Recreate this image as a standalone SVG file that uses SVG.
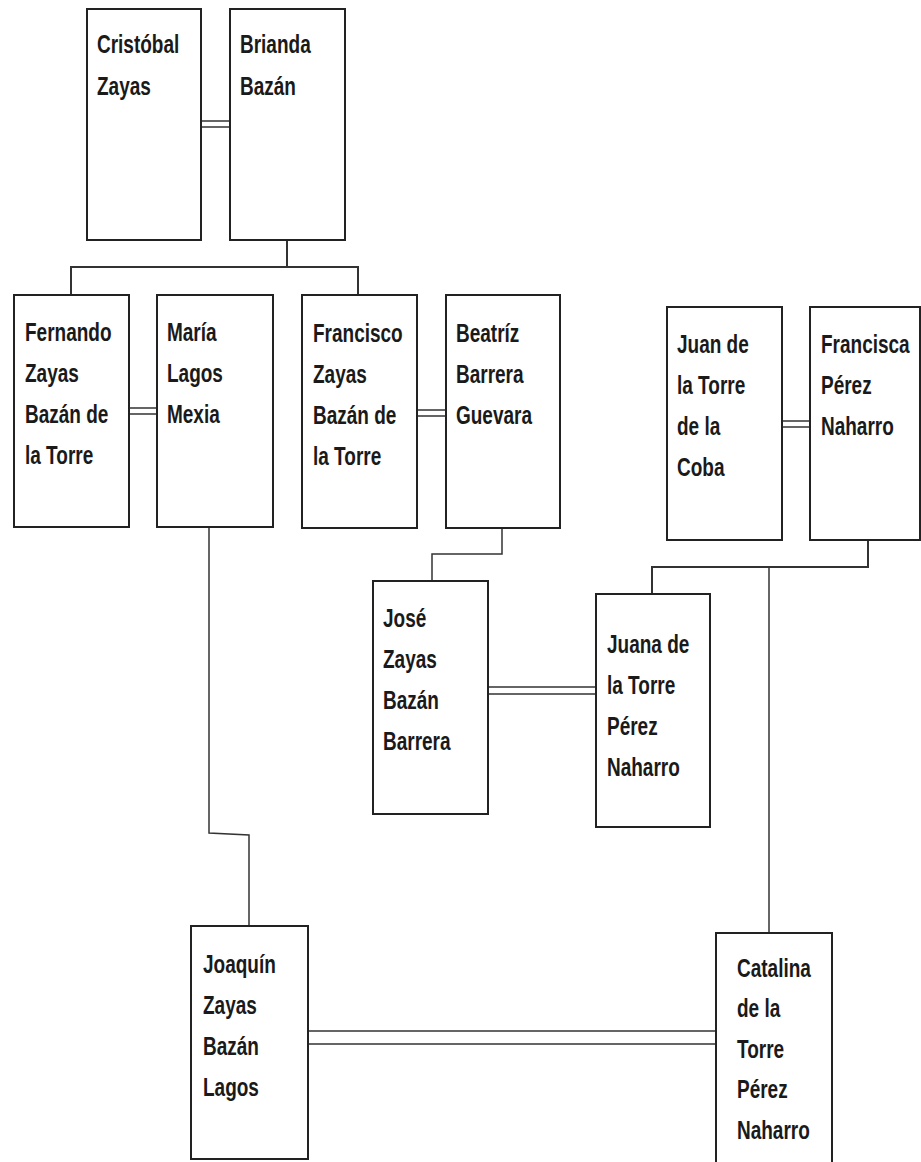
<svg xmlns="http://www.w3.org/2000/svg" width="921" height="1162" viewBox="0 0 921 1162">
<style>
.box{fill:#fff;stroke:#222;stroke-width:2}
.lbl{font-family:"Liberation Sans",Arial,sans-serif;font-size:25px;font-weight:bold;fill:#1a1a1a}
.con{fill:none;stroke:#333;stroke-width:1.5}
.mar{fill:none;stroke:#333;stroke-width:1.6}
</style>
<rect width="921" height="1162" fill="#fff"/>
<g id="connectors">
  <path class="mar" d="M201 121H230M201 127H230"/>
  <path class="con" d="M287 240V267M71 294V267H358V294" style="stroke-width:2"/>
  <path class="mar" d="M129 408H157M129 414H157"/>
  <path class="mar" d="M417 410H446M417 416H446"/>
  <path class="con" d="M502 528V554H432V581"/>
  <path class="mar" d="M488 687H596M488 694H596"/>
  <path class="mar" d="M782 421H810M782 427H810"/>
  <path class="con" d="M868 540V567H652V594" style="stroke-width:2"/>
  <path class="con" d="M769 567V933"/>
  <path class="con" d="M209 527V833L249 835V926"/>
  <path class="mar" d="M308 1031H715M308 1044H715"/>
</g>
<g id="n-cristobal"><rect class="box" x="87" y="9" width="114" height="231"/>
<text class="lbl" transform="translate(97,53) scale(0.76,1)"><tspan x="0">Cristóbal</tspan><tspan x="0" dy="42">Zayas</tspan></text></g>
<g id="n-brianda"><rect class="box" x="230" y="9" width="115" height="231"/>
<text class="lbl" transform="translate(240,53) scale(0.76,1)"><tspan x="0">Brianda</tspan><tspan x="0" dy="42">Bazán</tspan></text></g>
<g id="n-fernando"><rect class="box" x="14" y="295" width="115" height="232"/>
<text class="lbl" transform="translate(25,341) scale(0.76,1)"><tspan x="0">Fernando</tspan><tspan x="0" dy="41">Zayas</tspan><tspan x="0" dy="41">Bazán de</tspan><tspan x="0" dy="41">la Torre</tspan></text></g>
<g id="n-maria"><rect class="box" x="157" y="295" width="116" height="232"/>
<text class="lbl" transform="translate(167,341) scale(0.76,1)"><tspan x="0">María</tspan><tspan x="0" dy="41">Lagos</tspan><tspan x="0" dy="41">Mexia</tspan></text></g>
<g id="n-francisco"><rect class="box" x="302" y="295" width="115" height="233"/>
<text class="lbl" transform="translate(313,342) scale(0.76,1)"><tspan x="0">Francisco</tspan><tspan x="0" dy="41">Zayas</tspan><tspan x="0" dy="41">Bazán de</tspan><tspan x="0" dy="41">la Torre</tspan></text></g>
<g id="n-beatriz"><rect class="box" x="446" y="295" width="114" height="233"/>
<text class="lbl" transform="translate(456,342) scale(0.76,1)"><tspan x="0">Beatríz</tspan><tspan x="0" dy="41">Barrera</tspan><tspan x="0" dy="41">Guevara</tspan></text></g>
<g id="n-juan"><rect class="box" x="667" y="307" width="115" height="233"/>
<text class="lbl" transform="translate(677,353) scale(0.76,1)"><tspan x="0">Juan de</tspan><tspan x="0" dy="41">la Torre</tspan><tspan x="0" dy="41">de la</tspan><tspan x="0" dy="41">Coba</tspan></text></g>
<g id="n-francisca"><rect class="box" x="810" y="307" width="110" height="233"/>
<text class="lbl" transform="translate(821,353) scale(0.76,1)"><tspan x="0">Francisca</tspan><tspan x="0" dy="41">Pérez</tspan><tspan x="0" dy="41">Naharro</tspan></text></g>
<g id="n-jose"><rect class="box" x="373" y="581" width="115" height="233"/>
<text class="lbl" transform="translate(383,627) scale(0.76,1)"><tspan x="0">José</tspan><tspan x="0" dy="41">Zayas</tspan><tspan x="0" dy="41">Bazán</tspan><tspan x="0" dy="41">Barrera</tspan></text></g>
<g id="n-juana"><rect class="box" x="596" y="594" width="114" height="233"/>
<text class="lbl" transform="translate(607,653) scale(0.76,1)"><tspan x="0">Juana de</tspan><tspan x="0" dy="41">la Torre</tspan><tspan x="0" dy="41">Pérez</tspan><tspan x="0" dy="41">Naharro</tspan></text></g>
<g id="n-joaquin"><rect class="box" x="191" y="926" width="117" height="233"/>
<text class="lbl" transform="translate(203,973) scale(0.76,1)"><tspan x="0">Joaquín</tspan><tspan x="0" dy="41">Zayas</tspan><tspan x="0" dy="41">Bazán</tspan><tspan x="0" dy="41">Lagos</tspan></text></g>
<g id="n-catalina"><rect class="box" x="716" y="933" width="116" height="240"/>
<text class="lbl" transform="translate(737,977) scale(0.76,1)"><tspan x="0">Catalina</tspan><tspan x="0" dy="40.5">de la</tspan><tspan x="0" dy="40.5">Torre</tspan><tspan x="0" dy="40.5">Pérez</tspan><tspan x="0" dy="40.5">Naharro</tspan></text></g>
</svg>
